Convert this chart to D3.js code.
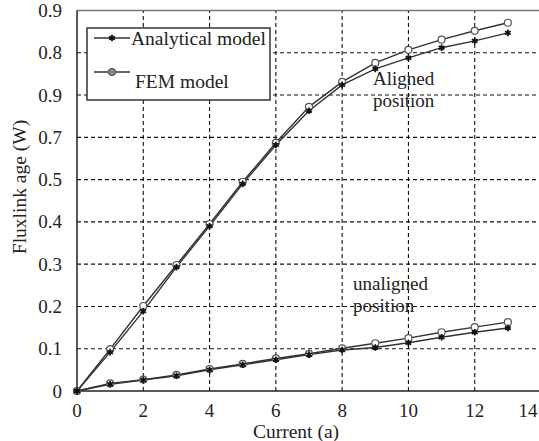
<!DOCTYPE html>
<html>
<head>
<meta charset="utf-8">
<script src="https://cdn.jsdelivr.net/npm/d3@7"></script>
<style>
  body { margin: 0; background: #fff; }
  svg text { font-family: "Liberation Serif", "Times New Roman", serif; fill: #222; }
</style>
</head>
<body>
<div id="draw"></div>
<script>
// current (a)
var current = [0, 1, 2, 3, 4, 5, 6, 7, 8, 9, 10, 11, 12, 13];

// aligned position
var alignedAnalytical = [0, 0.092, 0.189, 0.293, 0.390, 0.490, 0.582, 0.663, 0.724, 0.762, 0.788, 0.812, 0.828, 0.847];
var alignedFem        = [0, 0.099, 0.201, 0.298, 0.395, 0.495, 0.587, 0.672, 0.731, 0.776, 0.807, 0.831, 0.852, 0.871];

// unaligned position
var unalignedAnalytical = [0, 0.016, 0.026, 0.036, 0.050, 0.062, 0.074, 0.086, 0.097, 0.103, 0.114, 0.127, 0.139, 0.149];
var unalignedFem        = [0, 0.018, 0.027, 0.038, 0.052, 0.064, 0.077, 0.088, 0.101, 0.113, 0.125, 0.139, 0.151, 0.163];

// tick labels exactly as printed on the figure
var xTicks = [0, 2, 4, 6, 8, 10, 12, 14];
var yTicks = [0, 0.1, 0.2, 0.3, 0.4, 0.5, 0.6, 0.7, 0.8, 0.9];
var yTickLabels = ["0", "0.1", "0.2", "0.3", "0.4", "0.5", "0.7", "0.9", "0.8", "0.9"];

var width = 539, height = 441;
var svg = d3.select('#draw').append('svg')
    .attr('width', width).attr('height', height);

var x = d3.scaleLinear().domain([0, 14]).range([77, 541]);
var y = d3.scaleLinear().domain([0, 0.9]).range([391, 10.5]);

// grid
svg.append('g').selectAll('line')
    .data(yTicks.slice(1, 9))
    .enter().append('line')
    .attr('x1', x(0)).attr('x2', width)
    .attr('y1', function(d){ return y(d); })
    .attr('y2', function(d){ return y(d); })
    .attr('stroke', '#111').attr('stroke-width', 1.1)
    .attr('stroke-dasharray', '4,3');

svg.append('g').selectAll('line')
    .data(xTicks.slice(1, 7))
    .enter().append('line')
    .attr('x1', function(d){ return x(d); })
    .attr('x2', function(d){ return x(d); })
    .attr('y1', y(0)).attr('y2', y(0.9))
    .attr('stroke', '#111').attr('stroke-width', 1.1)
    .attr('stroke-dasharray', '4,3');

// frame
svg.append('line').attr('x1', x(0)).attr('x2', width).attr('y1', y(0.9)).attr('y2', y(0.9))
    .attr('stroke', '#777').attr('stroke-width', 1.5);
svg.append('line').attr('x1', x(0)).attr('x2', width).attr('y1', y(0)).attr('y2', y(0))
    .attr('stroke', '#222').attr('stroke-width', 1.5);
svg.append('line').attr('x1', x(0)).attr('x2', x(0)).attr('y1', y(0)).attr('y2', y(0.9))
    .attr('stroke', '#222').attr('stroke-width', 1.5);

// tick labels
svg.append('g').selectAll('text')
    .data(yTicks)
    .enter().append('text')
    .attr('x', 62)
    .attr('y', function(d){ return y(d) + 6.5; })
    .attr('text-anchor', 'end')
    .attr('font-size', 19)
    .text(function(d, i){ return yTickLabels[i]; });

svg.append('g').selectAll('text')
    .data(xTicks)
    .enter().append('text')
    .attr('x', function(d){ return Math.min(x(d), 528); })
    .attr('y', 417)
    .attr('text-anchor', 'middle')
    .attr('font-size', 19)
    .text(function(d){ return d; });

// axis titles
svg.append('text')
    .attr('x', 296).attr('y', 438)
    .attr('text-anchor', 'middle').attr('font-size', 19.5)
    .text('Current (a)');
svg.append('text')
    .attr('transform', 'translate(26,187) rotate(-90)')
    .attr('text-anchor', 'middle').attr('font-size', 19.5)
    .text('Fluxlink age (W)');

// series
var line = d3.line()
    .x(function(d){ return x(d[0]); })
    .y(function(d){ return y(d[1]); });

function zip(vals){ return current.map(function(c, i){ return [c, vals[i]]; }); }

var femSeries = [zip(alignedFem), zip(unalignedFem)];
var anaSeries = [zip(alignedAnalytical), zip(unalignedAnalytical)];

femSeries.concat(anaSeries).forEach(function(s){
    svg.append('path').datum(s)
        .attr('d', line)
        .attr('fill', 'none')
        .attr('stroke', '#333').attr('stroke-width', 1.4);
});

var star = d3.symbol().type(d3.symbolAsterisk).size(30);

femSeries.forEach(function(s){
    svg.append('g').selectAll('circle')
        .data(s).enter().append('circle')
        .attr('cx', function(d){ return x(d[0]); })
        .attr('cy', function(d){ return y(d[1]); })
        .attr('r', 3.5)
        .attr('fill', '#fff').attr('stroke', '#555').attr('stroke-width', 1.2);
});

anaSeries.forEach(function(s){
    svg.append('g').selectAll('path')
        .data(s).enter().append('path')
        .attr('d', star)
        .attr('transform', function(d){ return 'translate(' + x(d[0]) + ',' + y(d[1]) + ')'; })
        .attr('fill', 'none').attr('stroke', '#111').attr('stroke-width', 1.8);
});

// legend
var legend = svg.append('g');
legend.append('rect')
    .attr('x', 87).attr('y', 28).attr('width', 183).attr('height', 72)
    .attr('fill', '#fff').attr('stroke', '#333').attr('stroke-width', 1.5);
legend.append('line').attr('x1', 94).attr('x2', 130).attr('y1', 38).attr('y2', 38)
    .attr('stroke', '#333').attr('stroke-width', 1.3);
legend.append('path').attr('d', star).attr('transform', 'translate(112,38)')
    .attr('fill', 'none').attr('stroke', '#111').attr('stroke-width', 1.8);
legend.append('text').attr('x', 131).attr('y', 45).attr('font-size', 19.5).text('Analytical model');
legend.append('line').attr('x1', 94).attr('x2', 130).attr('y1', 72).attr('y2', 72)
    .attr('stroke', '#333').attr('stroke-width', 1.3);
legend.append('circle').attr('cx', 112).attr('cy', 72).attr('r', 3.5)
    .attr('fill', '#888').attr('stroke', '#555').attr('stroke-width', 1.2);
legend.append('text').attr('x', 135).attr('y', 88).attr('font-size', 19.5).text('FEM model');

// annotations
svg.append('text').attr('x', 373).attr('y', 85).attr('font-size', 19).text('Aligned');
svg.append('text').attr('x', 373).attr('y', 107).attr('font-size', 19).text('position');
svg.append('text').attr('x', 353).attr('y', 290).attr('font-size', 19).text('unaligned');
svg.append('text').attr('x', 353).attr('y', 312).attr('font-size', 19).text('position');
</script>
</body>
</html>
